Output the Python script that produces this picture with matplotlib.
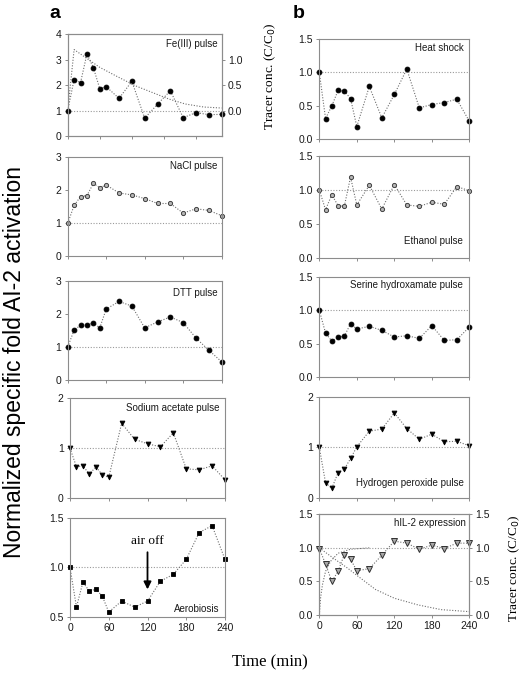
import matplotlib
matplotlib.use('Agg')
import matplotlib.pyplot as plt

# ---------------- data ----------------
t = [0, 10, 20, 30, 40, 50, 60, 80, 100, 120, 140, 160, 180, 200, 220, 240]

fe = [1.0, 2.22, 2.10, 3.23, 2.69, 1.86, 1.94, 1.48, 2.15, 0.70, 1.25, 1.78, 0.72, 0.92, 0.84, 0.85]
nacl = [1.0, 1.54, 1.81, 1.84, 2.21, 2.08, 2.16, 1.92, 1.86, 1.75, 1.60, 1.60, 1.31, 1.44, 1.39, 1.23]
dtt = [1.0, 1.51, 1.66, 1.66, 1.73, 1.58, 2.15, 2.38, 2.24, 1.58, 1.76, 1.91, 1.74, 1.27, 0.90, 0.55]
acetate = [1.0, 0.63, 0.65, 0.48, 0.63, 0.47, 0.42, 1.50, 1.18, 1.09, 1.03, 1.31, 0.59, 0.57, 0.65, 0.37]
aerob = [1.0, 0.60, 0.85, 0.76, 0.78, 0.71, 0.55, 0.66, 0.60, 0.66, 0.86, 0.93, 1.08, 1.35, 1.42, 1.08]

heat = [1.0, 0.31, 0.50, 0.73, 0.72, 0.61, 0.19, 0.79, 0.32, 0.67, 1.05, 0.47, 0.52, 0.55, 0.60, 0.27]
ethanol = [1.0, 0.71, 0.93, 0.77, 0.76, 1.19, 0.78, 1.07, 0.72, 1.08, 0.78, 0.76, 0.82, 0.79, 1.05, 0.99]
serine = [1.0, 0.66, 0.54, 0.60, 0.61, 0.80, 0.72, 0.76, 0.70, 0.60, 0.62, 0.58, 0.77, 0.55, 0.56, 0.75]
h2o2 = [1.0, 0.30, 0.19, 0.50, 0.57, 0.78, 1.01, 1.32, 1.36, 1.68, 1.37, 1.16, 1.26, 1.11, 1.12, 1.03]
hil2 = [0.99, 0.76, 0.50, 0.65, 0.90, 0.83, 0.66, 0.69, 0.89, 1.10, 1.07, 0.98, 1.04, 0.99, 1.07, 1.07]

# tracer curves (C/C0)
fe_tr_t = [0, 10, 27, 50, 74, 105, 131, 157, 183, 212, 240]
fe_tr = [0.0, 1.20, 1.05, 0.85, 0.69, 0.49, 0.36, 0.23, 0.13, 0.07, 0.05]
il_dec_t = [0, 25, 45, 63, 90, 120, 158, 195, 240]
il_dec = [1.0, 0.83, 0.70, 0.57, 0.38, 0.25, 0.15, 0.08, 0.05]
il_rise_t = [0, 2, 5, 10, 18, 30, 50, 80]
il_rise = [0.0, 0.25, 0.45, 0.65, 0.80, 0.92, 0.98, 1.0]

# ---------------- figure ----------------
W, H = 528, 687
fig = plt.figure(figsize=(W / 100, H / 100), dpi=100)
plt.rcParams['font.family'] = ['Liberation Sans', 'DejaVu Sans']

SPINE = '#8c8c8c'
LINE = '#6e6e6e'
REF = '#9a9a9a'
SERIF = ['Liberation Serif', 'DejaVu Serif']


def rect(l, r, top, bot):
    return [l / W, 1 - bot / H, (r - l) / W, (bot - top) / H]


def style(ax, ylim, yticks, ylabels, xticks, xlabels=False):
    ax.set_xlim(0, 240)
    ax.set_ylim(*ylim)
    ax.set_yticks(yticks)
    ax.set_yticklabels(ylabels)
    ax.set_xticks(xticks)
    if xlabels:
        ax.set_xticklabels([str(v) for v in xticks])
    else:
        ax.set_xticklabels([])
    for s in ax.spines.values():
        s.set_color(SPINE)
        s.set_linewidth(0.8)
    ax.tick_params(direction='out', length=2.5, width=0.7, color=SPINE,
                   labelsize=7.5, labelcolor='#1a1a1a', pad=2)
    ax.axhline(1.0, color=REF, lw=0.8, ls=(0, (1, 1.5)), zorder=1)


def series(ax, y, marker, mfc, mec, ms, mew=0.6):
    ax.plot(t, y, color=LINE, lw=0.8, ls=(0, (1, 1.5)), zorder=2,
            marker=marker, mfc=mfc, mec=mec, ms=ms, mew=mew, clip_on=False)


def label(ax, txt, x, y, ha='right'):
    ax.text(x, y, txt, transform=ax.transAxes, ha=ha, va='center',
            fontsize=7, color='#1a1a1a')


t60 = [0, 60, 120, 180, 240]

# ---- column a ----
ax = fig.add_axes(rect(67.7, 221.7, 34.3, 136))
style(ax, (0, 4), [0, 1, 2, 3, 4], ['0', '1', '2', '3', '4'], [0, 50, 100, 150, 200])
series(ax, fe, 'o', 'black', 'black', 3.5)
label(ax, 'Fe(III) pulse', 0.975, 0.905)
axt = ax.twinx()
axt.set_ylim(-0.5, 1.5)
axt.set_yticks([0, 0.5, 1.0])
axt.set_yticklabels(['0.0', '0.5', '1.0'])
axt.plot(fe_tr_t, fe_tr, color=LINE, lw=0.8, ls=(0, (1, 1.5)))
for s in axt.spines.values():
    s.set_color(SPINE)
    s.set_linewidth(0.8)
axt.tick_params(direction='out', length=2.5, width=0.7, color=SPINE,
                labelsize=7.5, labelcolor='#1a1a1a', pad=2)
fig.text(270 / W, 1 - 76 / H, 'Tracer conc. (C/C$_0$)', rotation=90,
         ha='center', va='center', fontsize=9.5, family=SERIF)

ax = fig.add_axes(rect(67.7, 221.7, 157.3, 256.3))
style(ax, (0, 3), [0, 1, 2, 3], ['0', '1', '2', '3'], t60)
series(ax, nacl, 'o', '#b5b5b5', '#404040', 3.0, 0.7)
label(ax, 'NaCl pulse', 0.975, 0.91)

ax = fig.add_axes(rect(67.7, 221.7, 281, 380))
style(ax, (0, 3), [0, 1, 2, 3], ['0', '1', '2', '3'], t60)
series(ax, dtt, 'o', 'black', 'black', 3.5)
label(ax, 'DTT pulse', 0.975, 0.88)

ax = fig.add_axes(rect(70, 225, 398.3, 498.3))
style(ax, (0, 2), [0, 1, 2], ['0', '1', '2'], t60)
series(ax, acetate, 'v', 'black', 'black', 3.5)
label(ax, 'Sodium acetate pulse', 0.963, 0.905)

ax = fig.add_axes(rect(70, 225, 517.7, 617))
style(ax, (0.5, 1.5), [0.5, 1.0, 1.5], ['0.5', '1.0', '1.5'], t60, xlabels=True)
series(ax, aerob, 's', 'black', 'black', 3.1)
label(ax, 'Aerobiosis', 0.963, 0.085)
ax.annotate('', xy=(120, 0.75), xytext=(120, 1.18),
            arrowprops=dict(arrowstyle='-|>', color='black', lw=1.3, mutation_scale=11))
ax.text(120, 1.27, 'air off', ha='center', va='center', fontsize=9.5, family=SERIF)

fig.text(55 / W, 1 - 13 / H, 'a', fontsize=14, fontweight='bold', ha='center', va='center')

# ---- column b ----
rl, rr = 319.3, 469.3
ax = fig.add_axes(rect(rl, rr, 39, 139.3))
style(ax, (0, 1.5), [0, 0.5, 1.0, 1.5], ['0.0', '0.5', '1.0', '1.5'], t60)
series(ax, heat, 'o', 'black', 'black', 3.5)
label(ax, 'Heat shock', 0.965, 0.913)

ax = fig.add_axes(rect(rl, rr, 156, 258))
style(ax, (0, 1.5), [0, 0.5, 1.0, 1.5], ['0.0', '0.5', '1.0', '1.5'], t60)
series(ax, ethanol, 'o', '#b5b5b5', '#404040', 3.0, 0.7)
label(ax, 'Ethanol pulse', 0.956, 0.167)

ax = fig.add_axes(rect(rl, rr, 276.7, 377.3))
style(ax, (0, 1.5), [0, 0.5, 1.0, 1.5], ['0.0', '0.5', '1.0', '1.5'], t60)
series(ax, serine, 'o', 'black', 'black', 3.5)
label(ax, 'Serine hydroxamate pulse', 0.96, 0.917)

ax = fig.add_axes(rect(rl, rr, 396.7, 498))
style(ax, (0, 2), [0, 1, 2], ['0', '1', '2'], t60)
series(ax, h2o2, 'v', 'black', 'black', 3.5)
label(ax, 'Hydrogen peroxide pulse', 0.967, 0.145)

ax = fig.add_axes(rect(rl, rr, 514.3, 615))
style(ax, (0, 1.5), [0, 0.5, 1.0, 1.5], ['0.0', '0.5', '1.0', '1.5'], t60, xlabels=True)
series(ax, hil2, 'v', '#a8a8a8', '#303030', 4.8, 0.7)
label(ax, 'hIL-2 expression', 0.98, 0.91)
axt = ax.twinx()
axt.set_ylim(0, 1.5)
axt.set_yticks([0, 0.5, 1.0, 1.5])
axt.set_yticklabels(['0.0', '0.5', '1.0', '1.5'])
axt.plot(il_dec_t, il_dec, color=LINE, lw=0.8, ls=(0, (1, 1.5)))
axt.plot(il_rise_t, il_rise, color=LINE, lw=0.8, ls=(0, (1, 1.5)))
for s in axt.spines.values():
    s.set_color(SPINE)
    s.set_linewidth(0.8)
axt.tick_params(direction='out', length=2.5, width=0.7, color=SPINE,
                labelsize=7.5, labelcolor='#1a1a1a', pad=2)
fig.text(514 / W, 1 - 568 / H, 'Tracer conc. (C/C$_0$)', rotation=90,
         ha='center', va='center', fontsize=9.5, family=SERIF)

fig.text(299 / W, 1 - 13 / H, 'b', fontsize=14, fontweight='bold', ha='center', va='center')

# ---- shared labels ----
fig.text(15 / W, 1 - 362 / H, 'Normalized specific fold AI-2 activation', rotation=90,
         ha='center', va='center', fontsize=16.5)
fig.text(270 / W, 1 - 662 / H, 'Time (min)', ha='center', va='center',
         fontsize=12, family=SERIF)

fig.savefig('out.png', dpi=100)
